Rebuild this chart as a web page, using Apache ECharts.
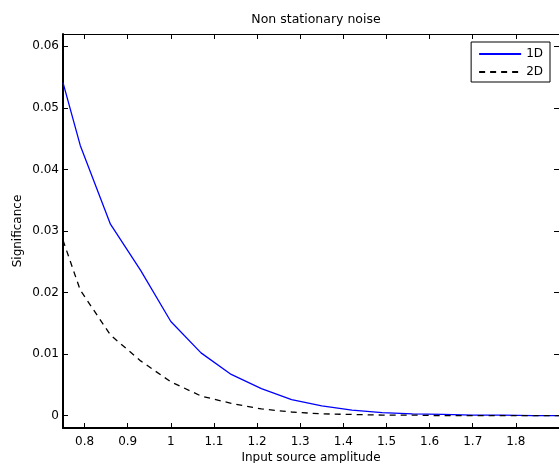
<!DOCTYPE html>
<html>
<head>
<meta charset="utf-8">
<script src="https://cdn.jsdelivr.net/npm/echarts@6/dist/echarts.min.js"></script>
<style>
  html, body { margin: 0; padding: 0; background: #fff; }
  #chart { width: 559px; height: 463px; }
</style>
</head>
<body>
<div id="chart"></div>
<script>
// amplitude values (first point sits on the left edge of the axis)
let amplitude = [0.75, 0.79, 0.86, 0.93, 1.0, 1.07, 1.14, 1.21, 1.28, 1.35, 1.42, 1.49, 1.56, 1.63, 1.70, 1.77, 1.84, 1.91];
let sig1D = [0.0541, 0.0439, 0.0311, 0.0236, 0.0153, 0.0102, 0.0067, 0.0044, 0.0026, 0.0016, 0.0009, 0.0005, 0.0003, 0.0002, 0.0001, 0.0001, 0.0000, 0.0000];
let sig2D = [0.0285, 0.0204, 0.0131, 0.0089, 0.0055, 0.0032, 0.0020, 0.0011, 0.0006, 0.0003, 0.0002, 0.0001, 0.0001, 0.0000, 0.0000, 0.0000, 0.0000, 0.0000];
let xTicks = [0.8, 0.9, 1.0, 1.1, 1.2, 1.3, 1.4, 1.5, 1.6, 1.7, 1.8];
let yTicks = [0, 0.01, 0.02, 0.03, 0.04, 0.05, 0.06];

let font = "'DejaVu Sans', sans-serif";

function pairs(xs, ys) {
  let out = [];
  for (let i = 0; i < xs.length; i++) {
    out.push([xs[i], ys[i]]);
  }
  return out;
}

let chart = echarts.init(document.getElementById("chart"), null, { renderer: "canvas" });

// ticks inside on every side, like matlab's boxed axes
let tickCfg = function (vals) {
  return { show: true, inside: true, length: 5, customValues: vals, lineStyle: { color: "#000", width: 1 } };
};

let option = {
  animation: false,
  backgroundColor: "#fff",
  textStyle: { fontFamily: font },
  title: {
    text: "Non stationary noise",
    left: 311,
    textAlign: "center",
    top: 8,
    textStyle: { fontSize: 12.5, fontWeight: "normal", color: "#000", fontFamily: font }
  },
  grid: { left: 63, top: 34, right: 0, bottom: 35, containLabel: false, outerBoundsMode: "none" },
  legend: {
    orient: "vertical",
    right: 9,
    top: 42,
    padding: [6, 7, 4, 7],
    itemWidth: 42,
    itemHeight: 10,
    itemGap: 6,
    borderColor: "#000",
    borderWidth: 1,
    borderRadius: 0,
    backgroundColor: "#fff",
    itemStyle: { opacity: 0 },
    textStyle: { fontSize: 12, color: "#000", fontFamily: font },
    data: ["1D", "2D"]
  },
  xAxis: [
    {
      type: "value",
      min: 0.75,
      max: 1.9,
      name: "Input source amplitude",
      nameLocation: "middle",
      nameGap: 24,
      nameMoveOverlap: false,
      nameTextStyle: { fontSize: 12, color: "#000", fontFamily: font },
      axisLine: { show: true, onZero: false, lineStyle: { color: "#000", width: 2 } },
      axisTick: tickCfg(xTicks),
      axisLabel: { customValues: xTicks, fontSize: 12, color: "#000", margin: 8, fontFamily: font },
      splitLine: { show: false }
    },
    {
      type: "value",
      position: "top",
      min: 0.75,
      max: 1.9,
      axisLine: { show: true, onZero: false, lineStyle: { color: "#000", width: 1 } },
      axisTick: tickCfg(xTicks),
      axisLabel: { show: false },
      splitLine: { show: false }
    }
  ],
  yAxis: [
    {
      type: "value",
      min: -0.002,
      max: 0.062,
      name: "Significance",
      nameLocation: "middle",
      nameGap: 39,
      nameMoveOverlap: false,
      nameTextStyle: { fontSize: 12, color: "#000", fontFamily: font },
      axisLine: { show: true, onZero: false, lineStyle: { color: "#000", width: 2 } },
      axisTick: tickCfg(yTicks),
      axisLabel: { customValues: yTicks, fontSize: 12, color: "#000", margin: 4, fontFamily: font },
      splitLine: { show: false }
    },
    {
      type: "value",
      position: "right",
      min: -0.002,
      max: 0.062,
      axisLine: { show: true, onZero: false, lineStyle: { color: "#000", width: 1 } },
      axisTick: tickCfg(yTicks),
      axisLabel: { show: false },
      splitLine: { show: false }
    }
  ],
  series: [
    {
      name: "1D",
      type: "line",
      data: pairs(amplitude, sig1D),
      symbol: "none",
      clip: true,
      lineStyle: { color: "#0000ff", width: 1.3 },
      itemStyle: { color: "#0000ff" }
    },
    {
      name: "2D",
      type: "line",
      data: pairs(amplitude, sig2D),
      symbol: "none",
      clip: true,
      lineStyle: { color: "#000", width: 1.3, type: [6, 5] },
      itemStyle: { color: "#000" }
    }
  ]
};

chart.setOption(option);
</script>
</body>
</html>
